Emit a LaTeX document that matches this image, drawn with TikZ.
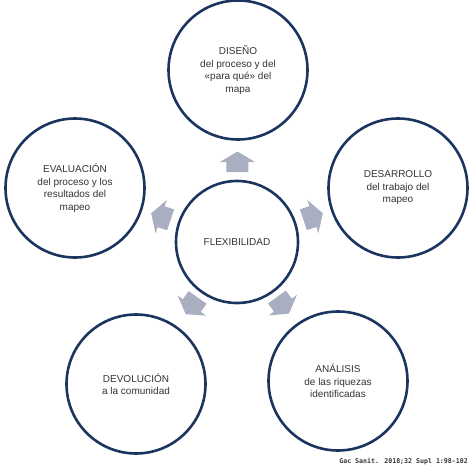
\documentclass[tikz,border=0pt]{standalone}
\usepackage{fontspec}
\setmainfont{Liberation Sans}
\newfontfamily\creditfont{DejaVu Sans Mono}
\usetikzlibrary{calc}
\definecolor{ringblue}{HTML}{1B3560}
\definecolor{arrowgray}{HTML}{A9AFC1}
\definecolor{textgray}{HTML}{333333}
\tikzset{
  ring/.style={circle, draw=ringblue, line width=2.6pt, minimum size=139pt, inner sep=0pt,
    align=center, text=textgray, font=\fontsize{10}{12.5}\selectfont},
  hubring/.style={ring, minimum size=122pt},
  housearrow/.pic={\fill[arrowgray] (-11,10) -- (-11,0) -- (-17.5,0) -- (0,-10.5) -- (17.5,0) -- (11,0) -- (11,10) -- cycle;}
}
\begin{document}
\begin{tikzpicture}[x=1pt,y=-1pt]
\useasboundingbox (0,0) rectangle (474,471);
\node[hubring] (hub) at (237,242) {FLEXIBILIDAD};
\node[ring] (dis) at (238,70) {DISEÑO\\del proceso y del\\«para qué» del\\mapa};
\node[ring] (des) at (398,188) {DESARROLLO\\del trabajo del\\mapeo};
\node[ring] (eva) at (75,188) {EVALUACIÓN\\del proceso y los\\resultados del\\mapeo};
\node[ring] (dev) at (136,384) {DEVOLUCIÓN\\a la comunidad};
\node[ring] (ana) at (338,381) {ANÁLISIS\\de las riquezas\\identificadas};
\pic (a1) at ($(hub)!80pt!(dis)$) {housearrow};
\pic[rotate=-71.5] (a2) at ($(hub)!80pt!(des)$) {housearrow};
\pic[rotate=71.6] (a3) at ($(hub)!80pt!(eva)$) {housearrow};
\pic[rotate=144.8] (a4) at ($(hub)!78pt!(dev)$) {housearrow};
\pic[rotate=-144] (a5) at ($(hub)!78pt!(ana)$) {housearrow};
\node[anchor=base east, inner sep=0pt, text=textgray, font=\creditfont\bfseries\fontsize{6.6}{8}\selectfont] (credit) at (468,463) {Gac Sanit. 2018;32 Supl 1:98-102};
\end{tikzpicture}
\end{document}
